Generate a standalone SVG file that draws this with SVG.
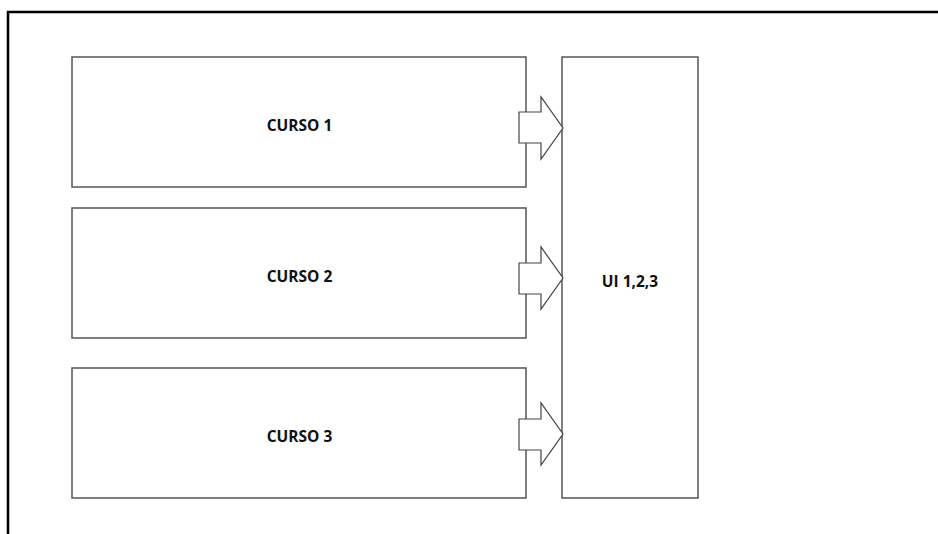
<svg xmlns="http://www.w3.org/2000/svg" width="938" height="534" viewBox="0 0 938 534">
<style>
.box{fill:#fff;stroke:#555;stroke-width:1.5}
.arr{fill:#fff;stroke:#444;stroke-width:1.2;stroke-linejoin:miter}
.lbl{font-family:"Open Sans","Liberation Sans",sans-serif;font-weight:bold;font-size:15.5px;fill:#111;text-anchor:middle}
</style>
<rect width="938" height="534" fill="#fff"/>
<path d="M8 534 V12 H938" fill="none" stroke="#000" stroke-width="2.5"/>
<g id="curso1"><rect class="box" x="72" y="57" width="454" height="130"/><text class="lbl" x="299.5" y="130.5">CURSO 1</text></g>
<g id="curso2"><rect class="box" x="72" y="208" width="454" height="130"/><text class="lbl" x="299.5" y="281.5">CURSO 2</text></g>
<g id="curso3"><rect class="box" x="72" y="368" width="454" height="130"/><text class="lbl" x="299.5" y="442">CURSO 3</text></g>
<g id="ui"><rect class="box" x="562" y="57" width="136" height="441"/><text class="lbl" x="630" y="286.5">UI 1,2,3</text></g>
<g id="connectors">
<polygon class="arr" points="519,112 541,112 541,97 563,128 541,159 541,143 519,143"/>
<polygon class="arr" points="519,263 541,263 541,247 563,278 541,309 541,294 519,294"/>
<polygon class="arr" points="519,419 541,419 541,403 563,434 541,465 541,450 519,450"/>
</g>
</svg>
